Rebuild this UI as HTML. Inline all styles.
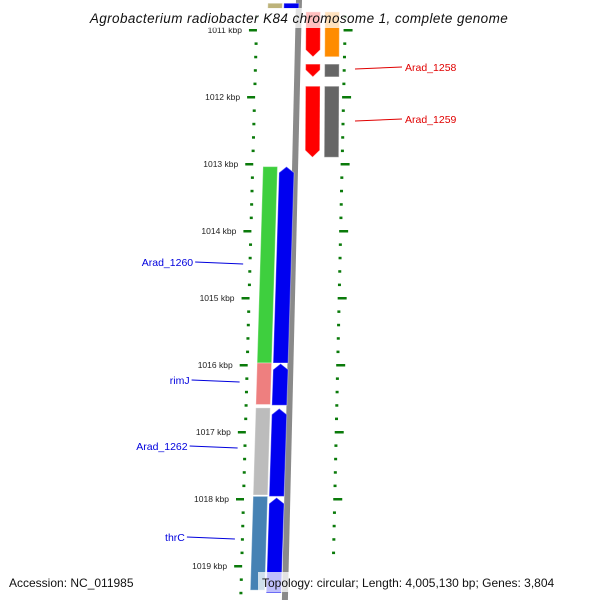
<!DOCTYPE html>
<html><head><meta charset="utf-8"><style>
html,body{margin:0;padding:0;background:#fff;width:600px;height:600px;overflow:hidden}
svg{display:block;font-family:"Liberation Sans","DejaVu Sans",sans-serif}
</style></head><body>
<svg id="map" width="600" height="600" viewBox="0 0 600 600" xmlns="http://www.w3.org/2000/svg"></svg>
<script>
// ---- data ----
const tickKbp = [1011,1012,1013,1014,1015,1016,1017,1018,1019];
const tickLabels = ["1011 kbp","1012 kbp","1013 kbp","1014 kbp","1015 kbp","1016 kbp","1017 kbp","1018 kbp","1019 kbp"];
const laneAStart = [1010.6, 1013.04, 1015.97, 1016.64, 1017.96];
const laneAEnd   = [1010.68, 1015.97, 1016.59, 1017.94, 1019.36];
const laneAColor = ["#bdb37a", "#3ecf3e", "#ee7f7f", "#bcbcbc", "#4682b4"];
const laneBStart = [1010.6, 1013.04, 1015.98, 1016.65, 1017.98];
const laneBEnd   = [1010.68, 1015.97, 1016.6, 1017.96, 1019.4];
const laneCStart = [1010.73, 1011.51, 1011.84];
const laneCEnd   = [1011.4, 1011.7, 1012.9];
const laneDStart = [1010.73, 1011.51, 1011.84];
const laneDEnd   = [1011.4, 1011.7, 1012.9];
const laneDColor = ["#ff8c00", "#666666", "#666666"];
const labelNames = ["Arad_1258","Arad_1259","Arad_1260","rimJ","Arad_1262","thrC"];
const labelY = [67,119,262,380,446,537];
const labelSide = ["r","r","l","l","l","l"];

const Y0 = 30, PXKB = 67;
const yOf = k => Y0 + (k - 1011) * PXKB;
const svgEl = document.getElementById('map');
const NS = "http://www.w3.org/2000/svg";
function mk(tag, attrs){const e=document.createElementNS(NS,tag);for(const k in attrs)e.setAttribute(k,attrs[k]);svgEl.appendChild(e);return e;}

const tickX = v => 257.5 - 0.0276*(v-10);
const rightX = v => 345 - 0.022*(v-10);
const bbX = v => 299 - 0.0235*v;
const laneAX = v => 263 - 0.03*(v-167);
const rX = v => 306 - 0.005*v;

const bb = mk('polygon',{points:`${bbX(0)-3},0 ${bbX(0)+3},0 ${bbX(600)+3},600 ${bbX(600)-3},600`,fill:'#8a8a8a'});



for(let k=1010.8;k<=1019.41;k+=0.2){
  const v=yOf(k); if(v<0||v>600) continue;
  const major=Math.abs(k-Math.round(k))<0.01;
  const x=tickX(v);
  const r=mk('rect',major?{x:x-8,y:v-1,width:8,height:2.5,fill:'#0a7a0a'}:{x:x-2,y:v-1,width:3,height:2.5,fill:'#0a7a0a'});
  
  
}
for(let k=1010.8;k<=1019.0;k+=0.2){
  const v=yOf(k); if(v<0||v>575) continue;
  const major=Math.abs(k-Math.round(k))<0.01;
  const x=rightX(v);
  const r=mk('rect',major?{x:x-1,y:v-1,width:9,height:2.5,fill:'#0a7a0a'}:{x:x-1,y:v-1,width:3,height:2.5,fill:'#0a7a0a'});
  
  
}
tickKbp.forEach((k,i)=>{
  const v=yOf(k);
  const t=mk('text',{x:tickX(v)-15,y:v+3,'font-size':'8.5','text-anchor':'end',fill:'#222'});
  t.textContent=tickLabels[i];
  
  
});

function block(xf, y1, y2, w, color, arrow, nm){
  const a=xf(y1), b=xf(y2);
  let pts;
  if(arrow==='up') pts=`${a},${y1+6} ${a+w/2},${y1} ${a+w},${y1+6} ${b+w},${y2} ${b},${y2}`;
  else if(arrow==='down') pts=`${a},${y1} ${a+w},${y1} ${b+w},${y2-7} ${b+w/2},${y2} ${b},${y2-7}`;
  else pts=`${a},${y1} ${a+w},${y1} ${b+w},${y2} ${b},${y2}`;
  const p=mk('polygon',{points:pts,fill:color,stroke:'rgba(255,255,255,0.35)','stroke-width':'1'});
  
  
}
laneAStart.forEach((s,i)=>block(laneAX,yOf(s),yOf(laneAEnd[i]),14.5,laneAColor[i],null,'gene-feature'));
laneBStart.forEach((s,i)=>block(v=>laneAX(v)+16,yOf(s),yOf(laneBEnd[i]),15,'#0000f0',i===0?null:'up','forward-cds'));
laneCStart.forEach((s,i)=>block(rX,yOf(s),yOf(laneCEnd[i]),14.5,'#ff0000','down','reverse-cds'));
laneDStart.forEach((s,i)=>block(v=>rX(v)+19,yOf(s),yOf(laneDEnd[i]),14.5,laneDColor[i],null,'gene-feature-right'));

labelNames.forEach((n,i)=>{
  const v=labelY[i], right=labelSide[i]==='r';
  const col=right?'#e00000':'#0000dd';
  if(right){
    const l=mk('line',{x1:355,y1:v+2,x2:402,y2:v,stroke:col,'stroke-width':'1'});
    
    
    const t=mk('text',{x:405,y:v+4,'font-size':'10.5',fill:col});t.textContent=n;
    
    
  } else {
    const x2=laneAX(v)-17;
    const t=mk('text',{x:x2-50,y:v+4,'font-size':'10.5',fill:col,'text-anchor':'end'});t.textContent=n;
    
    
    const l=mk('line',{x1:x2-48,y1:v,x2:x2,y2:v+2,stroke:col,'stroke-width':'1'});
    
    
  }
});

const tb=mk('rect',{x:60,y:8,width:472,height:20,fill:'rgba(255,255,255,0.75)'});


const titleEl=mk('text',{x:299,y:23,'font-size':'13.5','font-style':'italic','text-anchor':'middle',fill:'#111','letter-spacing':'0.4'});
titleEl.textContent='Agrobacterium radiobacter K84 chromosome 1, complete genome';


const fb=mk('rect',{x:258,y:572,width:336,height:20,fill:'rgba(255,255,255,0.75)'});


const acc=mk('text',{x:9,y:587,'font-size':'12',fill:'#111'});
acc.textContent='Accession: NC_011985';


const topo=mk('text',{x:262,y:587,'font-size':'12',fill:'#111'});
topo.textContent='Topology: circular; Length: 4,005,130 bp; Genes: 3,804';


</script>
</body></html>
